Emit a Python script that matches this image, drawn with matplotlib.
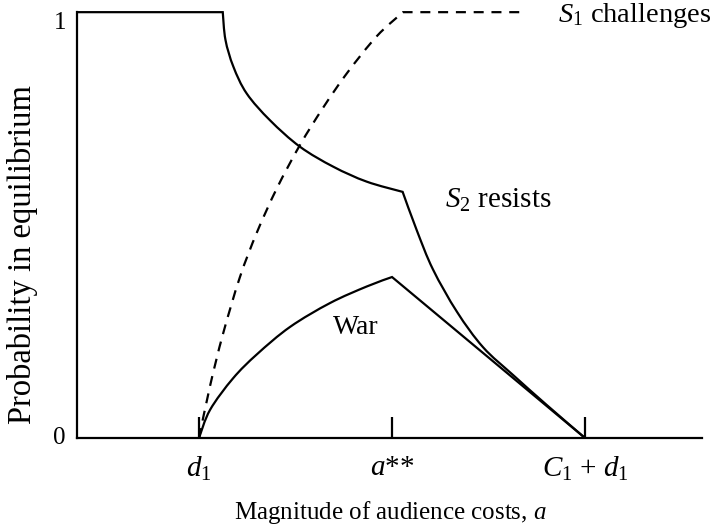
import matplotlib
matplotlib.use("Agg")
import matplotlib.pyplot as plt
from matplotlib.path import Path
from matplotlib.patches import PathPatch

plt.rcParams['font.family'] = ['Liberation Serif', 'DejaVu Serif']
plt.rcParams['mathtext.fontset'] = 'custom'
plt.rcParams['mathtext.rm'] = 'Liberation Serif'
plt.rcParams['mathtext.it'] = 'Liberation Serif:italic'
plt.rcParams['mathtext.bf'] = 'Liberation Serif:bold'

# x in units where d1 = 1, a** = 2, C1 + d1 = 3
resists_x = [0.368, 1.123, 1.137, 1.178, 1.247, 1.368, 1.523, 1.696, 1.869, 2.055,
             2.128, 2.212, 2.337, 2.472, 2.627, 2.803, 3.0]
resists_y = [1.0, 1.0, 0.935, 0.872, 0.809, 0.746, 0.684, 0.637, 0.602, 0.578,
             0.488, 0.396, 0.296, 0.213, 0.148, 0.077, 0.0]
resists_corners = [1, 9]

challenge_x = [1.0, 1.057, 1.124, 1.212, 1.301, 1.404, 1.523, 1.642, 1.767, 1.922, 2.057, 2.663]
challenge_y = [0.0, 0.122, 0.244, 0.378, 0.484, 0.587, 0.688, 0.775, 0.857, 0.944, 1.0, 1.0]
challenge_corners = [10]

war_x = [1.0, 1.057, 1.176, 1.301, 1.472, 1.679, 1.870, 2.0, 3.0]
war_y = [0.0, 0.066, 0.140, 0.197, 0.261, 0.317, 0.356, 0.378, 0.0]
war_corners = [7]

tick_pos = [1.0, 2.0, 3.0]
tick_labels = [r'$d_1$', r'$a$**', r'$C_1$ + $d_1$']
ytick_pos = [0, 1]
ytick_labels = ['0', '1']


def smooth_path(xs, ys, corners):
    """Smooth (Catmull-Rom style Bezier) path through the points, with sharp corners."""
    pts = list(zip(xs, ys))
    n = len(pts)
    cuts = [0] + sorted(corners) + [n - 1]
    verts = [pts[0]]
    codes = [Path.MOVETO]
    for a, b in zip(cuts[:-1], cuts[1:]):
        seg = pts[a:b + 1]
        m = len(seg)
        if m == 2:
            verts.append(seg[1])
            codes.append(Path.LINETO)
            continue
        for i in range(m - 1):
            p0 = seg[i - 1] if i > 0 else seg[i]
            p1 = seg[i]
            p2 = seg[i + 1]
            p3 = seg[i + 2] if i + 2 < m else seg[i + 1]
            c1 = (p1[0] + (p2[0] - p0[0]) / 6.0, p1[1] + (p2[1] - p0[1]) / 6.0)
            c2 = (p2[0] - (p3[0] - p1[0]) / 6.0, p2[1] - (p3[1] - p1[1]) / 6.0)
            verts += [c1, c2, p2]
            codes += [Path.CURVE4] * 3
    return Path(verts, codes)


fig = plt.figure(figsize=(7.2, 5.29), dpi=100)
ax = fig.add_axes([0.107, 0.172, 0.868, 0.805])

lw = 1.6
for xs, ys, cs, ls in [(resists_x, resists_y, resists_corners, '-'),
                       (war_x, war_y, war_corners, '-'),
                       (challenge_x, challenge_y, challenge_corners, (0, (4.5, 3.5)))]:
    patch = PathPatch(smooth_path(xs, ys, cs), facecolor='none', edgecolor='black',
                      lw=lw, linestyle=ls, clip_on=False, joinstyle='miter')
    ax.add_patch(patch)

ax.set_xlim(0.368, 3.606)
ax.set_ylim(0, 1)

for s in ['top', 'right']:
    ax.spines[s].set_visible(False)
for s in ['left', 'bottom']:
    ax.spines[s].set_linewidth(1.6)

ax.set_xticks(tick_pos)
ax.set_xticklabels(tick_labels, fontsize=21)
ax.tick_params(axis='x', direction='in', length=15, width=1.6, pad=12)
ax.set_yticks(ytick_pos)
ax.set_yticklabels(ytick_labels, fontsize=18)
ax.tick_params(axis='y', length=0, pad=8)
ylabs = ax.get_yticklabels()
ylabs[0].set_va('center')
ylabs[1].set_va('top')

ax.set_xlabel(r'Magnitude of audience costs, $a$', fontsize=18, va='center', ha='center')
ax.xaxis.set_label_coords(0.5008, -0.176)
ax.set_ylabel('Probability in equilibrium', fontsize=23.5, va='center', ha='center')
ax.yaxis.set_label_coords(-0.088, 0.43)

ax.text(2.86, 0.993, r'$S_1$ challenges', fontsize=20.5, va='center', ha='left')
ax.text(2.275, 0.559, r'$S_2$ resists', fontsize=21, va='center', ha='left')
ax.text(1.694, 0.26, 'War', fontsize=20, va='center', ha='left')

fig.savefig('out.png', dpi=100)
